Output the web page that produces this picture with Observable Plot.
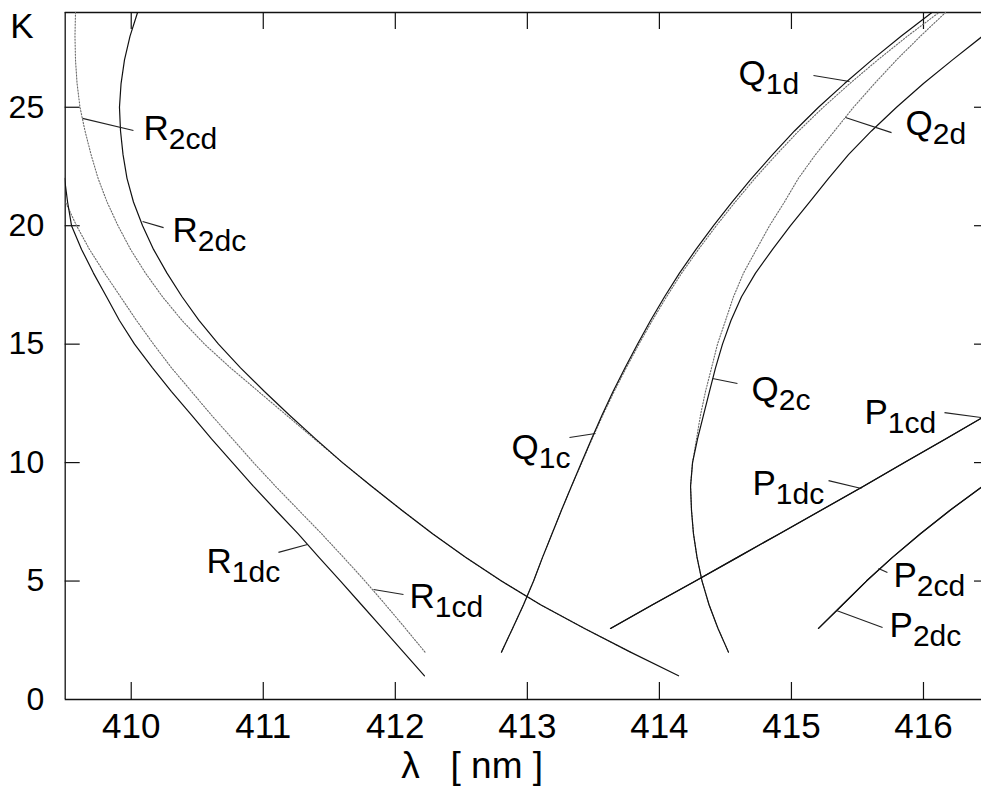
<!DOCTYPE html>
<html>
<head>
<meta charset="utf-8">
<script src="https://cdn.jsdelivr.net/npm/d3@7"></script>
<script src="https://cdn.jsdelivr.net/npm/@observablehq/plot@0.6"></script>
<style>
  html, body { margin: 0; padding: 0; background: #fff; overflow: hidden; }
  #chart svg { font-family: "Liberation Sans", Arial, Helvetica, sans-serif; }
</style>
</head>
<body>
<div id="chart"></div>
<script>
// Line positions λ (nm) of the rotational branches against K.
// Each array lists λ for consecutive K, beginning at the K given by its *K0 constant.
const R1dcK0 = 1;
const R1dc = [412.221, 412.062, 411.903, 411.744, 411.585, 411.422, 411.263, 411.093, 410.926, 410.767,
              410.608, 410.457, 410.305, 410.161, 410.025, 409.911, 409.813, 409.714, 409.624, 409.548,
              409.518, 409.495];
const R1cdK0 = 2;
const R1cd = [412.225, 412.077, 411.926, 411.771, 411.608, 411.441, 411.267, 411.093, 410.926, 410.767,
              410.608, 410.457, 410.305, 410.169, 410.040, 409.919, 409.798, 409.684, 409.586, 409.502];
const R2dcK0 = 1;
const R2dc = [414.145, 413.781, 413.433, 413.100, 412.804, 412.532, 412.282, 412.047, 411.820, 411.600,
              411.396, 411.199, 411.009, 410.828, 410.661, 410.513, 410.385, 410.271, 410.169, 410.086,
              410.017, 409.968, 409.938, 409.919, 409.911, 409.923, 409.949, 409.991, 410.048];
const R2cdK0 = 2;
const R2cd = [413.781, 413.433, 413.100, 412.804, 412.532, 412.282, 412.047, 411.820, 411.600, 411.388,
              411.176, 410.964, 410.752, 410.555, 410.385, 410.237, 410.108, 409.995, 409.900, 409.817,
              409.749, 409.696, 409.650, 409.612, 409.590, 409.578, 409.574, 409.578];
const Q1dK0 = 2;
const Q1d = [412.804, 412.888, 412.971, 413.047, 413.115, 413.187, 413.259, 413.334, 413.410, 413.486,
             413.565, 413.649, 413.740, 413.834, 413.933, 414.039, 414.152, 414.277, 414.410, 414.550,
             414.698, 414.857, 415.023, 415.205, 415.402, 415.610, 415.830, 416.064];
const Q1cK0 = 2;
const Q1c = [412.804, 412.888, 412.971, 413.047, 413.115, 413.187, 413.259, 413.334, 413.413, 413.490,
             413.571, 413.657, 413.749, 413.845, 413.946, 414.054, 414.169, 414.296, 414.431, 414.574,
             414.724, 414.886, 415.055, 415.241, 415.442, 415.654, 415.878, 416.117];
const Q2cK0 = 2;
const Q2c = [414.523, 414.444, 414.376, 414.323, 414.285, 414.258, 414.243, 414.236, 414.251, 414.289,
             414.334, 414.379, 414.425, 414.478, 414.542, 414.622, 414.728, 414.857, 414.993, 415.137,
             415.281, 415.432, 415.606, 415.796, 416.000, 416.220, 416.447];
const Q2dK0 = 2;
const Q2d = [414.523, 414.444, 414.376, 414.323, 414.285, 414.258, 414.243, 414.236, 414.251, 414.281,
             414.311, 414.349, 414.395, 414.440, 414.501, 414.561, 414.637, 414.735, 414.834, 414.947,
             415.053, 415.182, 415.326, 415.470, 415.629, 415.796, 415.977, 416.167];
const P1cdK0 = 3;
const P1cd = [413.630, 413.948, 414.273, 414.591, 414.910, 415.228, 415.546, 415.856, 416.167, 416.477];
const P1dcK0 = 3;
const P1dc = [413.630, 413.948, 414.273, 414.591, 414.910, 415.228, 415.546, 415.856, 416.167, 416.477];
const P2cdK0 = 3;
const P2cd = [415.205, 415.387, 415.568, 415.765, 415.977, 416.204, 416.447];
const P2dcK0 = 3;
const P2dc = [415.205, 415.387, 415.568, 415.765, 415.977, 416.204, 416.447];

// Branches drawn dotted; the rest are solid
const dottedBranches = ["R1cd", "R2cd", "Q1c", "Q2d"];

// Branch labels: anchor (left end of baseline) and leader line from the curve to the label
const labelNames   = ["R2cd", "R2dc", "R1dc", "R1cd", "Q1c", "Q2c", "P1cd", "P1dc", "P2cd", "P2dc", "Q1d", "Q2d"];
const labelLambda  = [410.093, 410.313, 410.570, 412.108, 412.880, 414.698, 415.553, 414.705, 415.773, 415.743, 414.599, 415.864];
const labelK       = [23.60, 19.33, 5.36, 3.88, 10.17, 12.62, 11.61, 8.65, 4.73, 2.62, 25.92, 23.81];
const leaderLambda1 = [409.631, 410.086, 411.335, 411.835, 413.516, 414.402, 416.439, 415.530, 415.659, 415.341, 415.440, 415.409];
const leaderK1      = [24.53, 20.18, 6.54, 4.64, 11.23, 13.55, 11.90, 8.91, 5.53, 3.76, 26.09, 24.57];
const leaderLambda2 = [410.017, 410.245, 411.115, 412.062, 413.319, 414.591, 416.159, 415.281, 415.727, 415.690, 415.167, 415.758];
const leaderK2      = [24.02, 19.92, 6.21, 4.43, 11.06, 13.34, 12.11, 9.24, 5.36, 3.04, 26.34, 23.93];

// Axis ticks and titles
const xTicks = [410, 411, 412, 413, 414, 415, 416];
const yTicks = [0, 5, 10, 15, 20, 25];
const xDomain = [409.5, 416.5];
const yDomain = [0, 29];
const xTitle = "λ   [ nm ]";
const yTitle = "K";

const branches = [
  ["R1dc", R1dcK0, R1dc], ["R1cd", R1cdK0, R1cd], ["R2dc", R2dcK0, R2dc], ["R2cd", R2cdK0, R2cd],
  ["Q1d", Q1dK0, Q1d], ["Q1c", Q1cK0, Q1c], ["Q2c", Q2cK0, Q2c], ["Q2d", Q2dK0, Q2d],
  ["P1cd", P1cdK0, P1cd], ["P1dc", P1dcK0, P1dc], ["P2cd", P2cdK0, P2cd], ["P2dc", P2dcK0, P2dc]
];
const points = branches.flatMap(([name, k0, values]) =>
  values.map((lambda, i) => ({name, K: k0 + i, lambda})));
const dotted = points.filter(d => dottedBranches.includes(d.name));
const solid = points.filter(d => !dottedBranches.includes(d.name));

const labels = labelNames.map((name, i) => ({name, lambda: labelLambda[i], K: labelK[i]}));
const leaders = labelNames.map((name, i) => ({
  name, x1: leaderLambda1[i], y1: leaderK1[i], x2: leaderLambda2[i], y2: leaderK2[i]
}));

const W = 981, H = 787;
const mL = 64.7, mT = 12, mB = 88, mR = 0;
const frameW = W - mL - mR, frameH = H - mT - mB;
const tickLen = 17, yTickLen = 15;

const chart = Plot.plot({
  width: W,
  height: H,
  marginLeft: mL,
  marginRight: mR,
  marginTop: mT,
  marginBottom: mB,
  style: {fontFamily: "Liberation Sans, Arial, sans-serif", fontSize: "32px", color: "#000", background: "#fff"},
  x: {domain: xDomain, range: [mL, 989]},
  y: {domain: yDomain},
  marks: [
    // box around the plotting area (the right edge lies just past the page)
    Plot.ruleY([yDomain[0], yDomain[1]], {stroke: "#111", strokeWidth: 1.3}),
    Plot.ruleX([xDomain[0], xDomain[1]], {stroke: "#111", strokeWidth: 1.3}),
    // inward ticks on all four sides
    Plot.ruleX(xTicks, {insetTop: frameH - tickLen, stroke: "#111", strokeWidth: 1.2}),
    Plot.ruleX(xTicks, {insetBottom: frameH - tickLen, stroke: "#111", strokeWidth: 1.2}),
    Plot.ruleY(yTicks.slice(1), {insetRight: frameW - yTickLen, stroke: "#111", strokeWidth: 1.2}),
    Plot.ruleY(yTicks.slice(1), {insetLeft: frameW - 7, stroke: "#111", strokeWidth: 1.2}),
    Plot.axisX({ticks: xTicks, tickSize: 0, tickPadding: 14, label: null, fontSize: 35, tickFormat: d => String(d)}),
    Plot.axisY({ticks: yTicks, tickSize: 0, tickPadding: 21, label: null, fontSize: 32}),
    // branches
    Plot.line(dotted, {x: "lambda", y: "K", z: "name", stroke: "#6a6a6a", strokeWidth: 1.1,
                       strokeDasharray: "1.3 1.7", clip: true}),
    Plot.line(solid, {x: "lambda", y: "K", z: "name", stroke: "#111", strokeWidth: 1.2, clip: true}),
    // leader lines and branch names
    Plot.link(leaders, {x1: "x1", y1: "y1", x2: "x2", y2: "y2", stroke: "#222", strokeWidth: 1.1}),
    Plot.text(labels, {x: "lambda", y: "K", text: "name", textAnchor: "start", lineAnchor: "bottom",
                       fontSize: 35, fill: "#000"}),
    // axis titles
    Plot.text([xTitle], {frameAnchor: "bottom-left", dx: 336, dy: 78, textAnchor: "start",
                         lineAnchor: "bottom", fontSize: 37, fill: "#000"}),
    Plot.text([yTitle], {frameAnchor: "top-left", dx: -55, dy: 25, textAnchor: "start",
                         lineAnchor: "bottom", fontSize: 35, fill: "#000"})
  ]
});

// Typeset each branch name as a letter followed by a lowered, smaller subscript
const ns = "http://www.w3.org/2000/svg";
chart.querySelectorAll("text").forEach(t => {
  const name = t.textContent;
  if (!labelNames.includes(name)) return;
  t.textContent = "";
  const main = document.createElementNS(ns, "tspan");
  main.textContent = name[0];
  const sub = document.createElementNS(ns, "tspan");
  sub.textContent = name.slice(1);
  sub.setAttribute("dy", "9");
  sub.setAttribute("font-size", "30");
  t.append(main, sub);
});

document.getElementById("chart").append(chart);
</script>
</body>
</html>
